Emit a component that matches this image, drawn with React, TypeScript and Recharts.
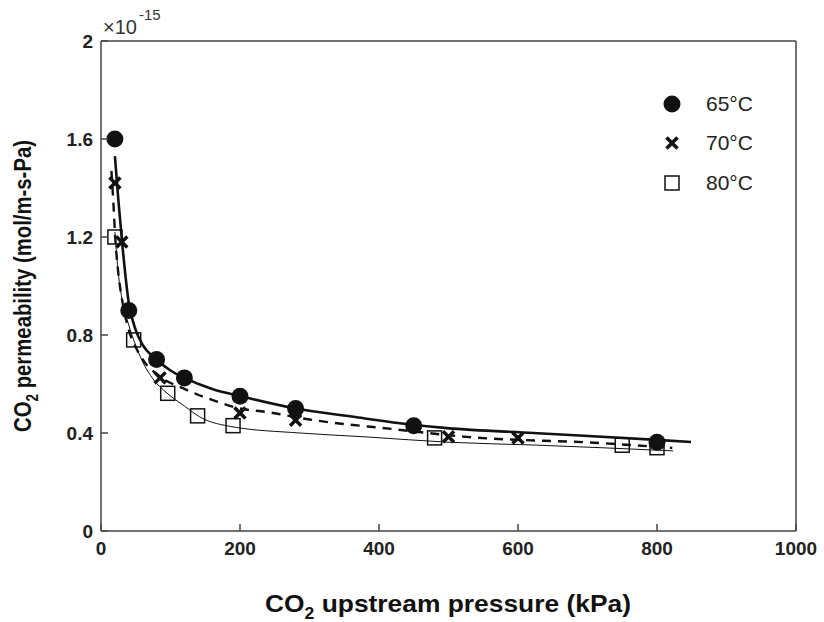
import React from 'react';
import { ComposedChart, Line, Scatter, XAxis, YAxis } from 'recharts';

// measured points (permeability in units of 1e-15 mol/m-s-Pa)
const P65 = [20, 40, 80, 120, 200, 280, 450, 800];
const K65 = [1.6, 0.9, 0.7, 0.625, 0.55, 0.5, 0.43, 0.362];
const P70 = [20, 30, 85, 200, 280, 500, 600];
const K70 = [1.42, 1.18, 0.625, 0.482, 0.452, 0.385, 0.38];
const P80 = [20, 47, 96, 139, 190, 480, 750, 800];
const K80 = [1.2, 0.78, 0.562, 0.47, 0.43, 0.38, 0.35, 0.34];

// fitted curves
const FIT65_P = [20, 25, 30, 40, 50, 60, 80, 100, 120, 160, 200, 280, 363, 430, 498, 622, 800, 849];
const FIT65_K = [1.53, 1.35, 1.19, 0.93, 0.82, 0.76, 0.7, 0.655, 0.625, 0.58, 0.551, 0.5, 0.466, 0.44, 0.42, 0.4, 0.372, 0.363];
const FIT70_P = [15, 18, 20, 25, 30, 40, 50, 60, 85, 120, 160, 200, 238, 300, 420, 526, 718, 822];
const FIT70_K = [1.47, 1.33, 1.22, 1.05, 0.95, 0.82, 0.75, 0.7, 0.63, 0.58, 0.535, 0.5, 0.486, 0.455, 0.416, 0.384, 0.359, 0.339];
const FIT80_P = [20, 25, 30, 40, 47, 60, 75, 95, 120, 142, 190, 286, 382, 502, 622, 823];
const FIT80_K = [1.22, 1.05, 0.95, 0.84, 0.78, 0.69, 0.62, 0.563, 0.51, 0.466, 0.425, 0.4, 0.384, 0.362, 0.351, 0.327];

const X_TICKS = [0, 200, 400, 600, 800, 1000];
const Y_TICKS = [0, 0.4, 0.8, 1.2, 1.6, 2];
const LEGEND = ['65°C', '70°C', '80°C'];

const zip = (p: number[], k: number[]) => p.map((v, i) => ({ p: v, k: k[i] }));

const AXIS = '#444';
const INK = '#111';
const SANS = "'Liberation Sans', Arial, sans-serif";

const BottomTick = ({ x, y, payload }: any) => (
  <g>
    <line x1={x} x2={x} y1={y - 10} y2={y - 17} stroke={AXIS} strokeWidth={1.5} />
    <text x={x} y={y} dy="0.74em" textAnchor="middle" fill="#222" fontSize={19} fontWeight="bold" fontFamily={SANS}>
      {payload.value}
    </text>
  </g>
);

const LeftTick = ({ x, y, payload }: any) => (
  <g>
    <line x1={x + 8} x2={x + 15} y1={y} y2={y} stroke={AXIS} strokeWidth={1.5} />
    <text x={x} y={y} dy="0.36em" textAnchor="end" fill="#222" fontSize={19} fontWeight="bold" fontFamily={SANS}>
      {payload.value}
    </text>
  </g>
);

const TopTick = ({ x, y }: any) => (
  <line x1={x} x2={x} y1={y} y2={y + 7} stroke={AXIS} strokeWidth={1.5} />
);

const RightTick = ({ x, y }: any) => (
  <line x1={x} x2={x - 7} y1={y} y2={y} stroke={AXIS} strokeWidth={1.5} />
);

const Dot = ({ cx, cy }: any) => <circle cx={cx} cy={cy} r={8.5} fill={INK} />;
const Cross = ({ cx, cy }: any) => (
  <g stroke={INK} strokeWidth={3.5}>
    <line x1={cx - 5.5} y1={cy - 5.5} x2={cx + 5.5} y2={cy + 5.5} />
    <line x1={cx - 5.5} y1={cy + 5.5} x2={cx + 5.5} y2={cy - 5.5} />
  </g>
);
const Square = ({ cx, cy }: any) => (
  <rect x={cx - 7} y={cy - 7} width={14} height={14} fill="none" stroke={INK} strokeWidth={1.5} />
);

const shapes = [Dot, Cross, Square];

const LegendBox = () => (
  <div style={{ position: 'absolute', left: 660, top: 84, fontFamily: SANS, fontSize: 21, color: '#222' }}>
    {LEGEND.map((label, i) => {
      const S = shapes[i];
      return (
        <div key={label} style={{ display: 'flex', alignItems: 'center', height: 39.5 }}>
          <svg width={24} height={24} style={{ marginRight: 22 }}>
            <S cx={12} cy={12} />
          </svg>
          <span>{label}</span>
        </div>
      );
    })}
  </div>
);

export default function App() {
  return (
    <div style={{ position: 'absolute', left: 0, top: 0, width: 824, height: 622, background: '#fff' }}>
      <ComposedChart width={824} height={622} margin={{ top: 40, right: 27, bottom: 51, left: 51 }}>
        <XAxis
          xAxisId={0}
          dataKey="p"
          type="number"
          domain={[0, 1000]}
          ticks={X_TICKS}
          interval={0}
          height={40}
          tickSize={0}
          tickMargin={10}
          tickLine={false}
          tick={<BottomTick />}
          axisLine={{ stroke: AXIS, strokeWidth: 1.5 }}
          allowDataOverflow
        />
        <XAxis
          xAxisId="top"
          orientation="top"
          type="number"
          domain={[0, 1000]}
          ticks={X_TICKS}
          interval={0}
          height={1}
          tickSize={0}
          tickMargin={0}
          tickLine={false}
          tick={<TopTick />}
          axisLine={{ stroke: AXIS, strokeWidth: 1.5 }}
        />
        <YAxis
          yAxisId={0}
          dataKey="k"
          type="number"
          domain={[0, 2]}
          ticks={Y_TICKS}
          interval={0}
          width={50}
          tickSize={0}
          tickMargin={8}
          tickLine={false}
          tick={<LeftTick />}
          axisLine={{ stroke: AXIS, strokeWidth: 1.5 }}
          allowDataOverflow
        />
        <YAxis
          yAxisId="right"
          orientation="right"
          type="number"
          domain={[0, 2]}
          ticks={Y_TICKS}
          interval={0}
          width={1}
          tickSize={0}
          tickMargin={0}
          tickLine={false}
          tick={<RightTick />}
          axisLine={{ stroke: AXIS, strokeWidth: 1.5 }}
        />
        <Line data={zip(FIT65_P, FIT65_K)} dataKey="k" type="monotone" stroke={INK} strokeWidth={2.6} dot={false} isAnimationActive={false} />
        <Line data={zip(FIT70_P, FIT70_K)} dataKey="k" type="monotone" stroke={INK} strokeWidth={2.4} strokeDasharray="9 7" dot={false} isAnimationActive={false} />
        <Line data={zip(FIT80_P, FIT80_K)} dataKey="k" type="monotone" stroke={INK} strokeWidth={1} dot={false} isAnimationActive={false} />
        <Scatter data={zip(P80, K80)} shape={<Square />} isAnimationActive={false} />
        <Scatter data={zip(P70, K70)} shape={<Cross />} isAnimationActive={false} />
        <Scatter data={zip(P65, K65)} shape={<Dot />} isAnimationActive={false} />
      </ComposedChart>

      <LegendBox />

      <svg width={824} height={622} style={{ position: 'absolute', left: 0, top: 0, pointerEvents: 'none' }}>
        <text x={103} y={34} fontFamily={SANS} fontSize={20} fill="#333">
          ×10
          <tspan dx={2} dy={-14} fontSize={15}>-15</tspan>
        </text>
        <text
          x={448}
          y={612}
          textAnchor="middle"
          fontFamily={SANS}
          fontWeight="bold"
          fontSize={24}
          fill="#111"
          textLength={366}
          lengthAdjust="spacingAndGlyphs"
        >
          CO<tspan dy={7} fontSize={16}>2</tspan><tspan dy={-7}> upstream pressure (kPa)</tspan>
        </text>
        <text
          transform="translate(31, 286) rotate(-90)"
          x={0}
          y={0}
          textAnchor="middle"
          fontFamily={SANS}
          fontWeight="bold"
          fontSize={24}
          fill="#111"
          textLength={292}
          lengthAdjust="spacingAndGlyphs"
        >
          CO<tspan dy={7} fontSize={16}>2</tspan><tspan dy={-7}> permeability (mol/m-s-Pa)</tspan>
        </text>
      </svg>
    </div>
  );
}
